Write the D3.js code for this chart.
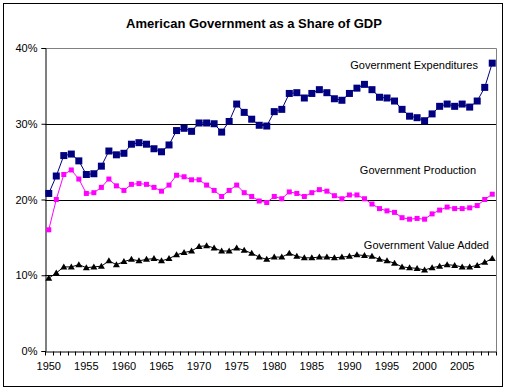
<!DOCTYPE html>
<html><head><meta charset="utf-8">
<script src="https://cdn.jsdelivr.net/npm/d3@7"></script>
<style>body{margin:0;background:#fff}svg{display:block}text{font-family:"Liberation Sans",Arial,sans-serif}</style>
</head><body><svg id="c" width="509" height="391"></svg>
<script>
const years = d3.range(1950, 2010);
const expenditures = [20.8,23.1,25.8,26.0,25.1,23.3,23.4,24.4,26.4,25.9,26.1,27.3,27.5,27.3,26.7,26.3,27.2,29.1,29.4,29.0,30.1,30.1,30.0,28.9,30.3,32.6,31.5,30.6,29.8,29.7,31.6,31.9,34.0,34.1,33.4,34.0,34.5,34.1,33.3,33.1,34.0,34.7,35.2,34.5,33.5,33.4,33.0,31.9,31.0,30.8,30.4,31.3,32.3,32.6,32.3,32.6,32.2,33.0,34.8,38.0];
const production = [16.0,20.0,23.3,23.9,22.7,20.8,20.9,21.6,22.7,21.8,21.2,22.0,22.1,22.0,21.6,21.1,21.9,23.2,23.0,22.6,22.6,21.9,21.2,20.4,21.2,21.9,20.9,20.4,19.8,19.6,20.4,20.1,21.0,20.8,20.4,20.9,21.3,21.1,20.5,20.1,20.6,20.6,20.1,19.4,18.8,18.5,18.3,17.6,17.4,17.5,17.4,18.1,18.6,19.0,18.8,18.8,18.9,19.2,20.0,20.7];
const valueAdded = [9.6,10.3,11.1,11.1,11.4,11.0,11.1,11.2,11.9,11.4,11.8,12.1,11.9,12.1,12.2,11.9,12.2,12.7,13.0,13.2,13.8,13.9,13.6,13.2,13.2,13.6,13.3,12.9,12.4,12.1,12.4,12.4,12.9,12.5,12.3,12.3,12.4,12.4,12.3,12.4,12.5,12.7,12.6,12.5,12.1,11.9,11.6,11.1,11.0,10.9,10.7,11.0,11.2,11.4,11.3,11.1,11.1,11.3,11.7,12.2];
const yTicks = [0,10,20,30,40];
const xLabelYears = [1950,1955,1960,1965,1970,1975,1980,1985,1990,1995,2000,2005];
const seriesNames = ["Government Expenditures","Government Production","Government Value Added"];
const title = "American Government as a Share of GDP";

const svg = d3.select("#c");
const L=45,R=496,T=48,B=351;
svg.append("rect").attr("x",3.5).attr("y",3.5).attr("width",499).attr("height",383).attr("fill","#fff").attr("stroke","#000");
svg.append("text").attr("x",254).attr("y",28).attr("text-anchor","middle").attr("font-size",13).attr("font-weight","bold").text(title);

const x = d3.scaleBand().domain(years).range([L,R]);
const y = d3.scaleLinear().domain([0,40]).range([B,T]);
const cx = d=>x(d)+x.bandwidth()/2;

// plot border (gray top/right)
svg.append("path").attr("d",`M${L},${T+0.5}H${R+0.5}V${B}`).attr("fill","none").attr("stroke","#808080");
// gridlines
svg.append("g").selectAll("line").data([10,20,30]).join("line")
  .attr("x1",L).attr("x2",R).attr("y1",d=>Math.round(y(d))+0.5).attr("y2",d=>Math.round(y(d))+0.5).attr("stroke","#000");

// y axis
const ya = svg.append("g").attr("transform",`translate(${L+0.5},0)`)
  .call(d3.axisLeft(y).tickValues(yTicks).tickSize(4).tickPadding(4).tickFormat(d=>d+"%"));
ya.selectAll("text").attr("font-size",11).attr("font-family","Liberation Sans, Arial, sans-serif");
ya.select(".domain").attr("stroke","#000");
// x axis
const xa = svg.append("g").attr("transform",`translate(0,${B+0.5})`)
  .call(d3.axisBottom(x).tickValues([]).tickSizeOuter(0));
xa.select(".domain").attr("stroke","#000");
xa.selectAll("line.tk").data(years.concat([2010])).join("line").attr("class","tk")
  .attr("x1",(d,i)=>Math.round(L+i*x.step())+0.5).attr("x2",(d,i)=>Math.round(L+i*x.step())+0.5)
  .attr("y1",0).attr("y2",4).attr("stroke","#000");
xa.selectAll("text.lb").data(xLabelYears).join("text").attr("class","lb")
  .attr("x",d=>cx(d)).attr("y",18).attr("text-anchor","middle").attr("font-size",11).attr("fill","#000").text(d=>d);

function drawLine(vals,color){
  svg.append("path").datum(vals).attr("fill","none").attr("stroke",color).attr("stroke-width",1)
    .attr("d",d3.line().x((d,i)=>cx(years[i])).y(d=>y(d)));
}
drawLine(expenditures,"#000080");
drawLine(production,"#FF00FF");
drawLine(valueAdded,"#000000");

svg.append("g").selectAll("rect").data(expenditures).join("rect")
  .attr("x",(d,i)=>cx(years[i])-3.5).attr("y",d=>y(d)-3.5).attr("width",7).attr("height",7).attr("fill","#000080");
svg.append("g").selectAll("rect").data(production).join("rect")
  .attr("x",(d,i)=>cx(years[i])-2.5).attr("y",d=>y(d)-2.5).attr("width",5).attr("height",5).attr("fill","#FF00FF");
svg.append("g").selectAll("path").data(valueAdded).join("path")
  .attr("d",(d,i)=>{const px=cx(years[i]),py=y(d);return `M${px},${py-3.5}L${px+3.5},${py+2.5}L${px-3.5},${py+2.5}Z`;}).attr("fill","#000");

const labels = [{t:seriesNames[0],v:expenditures,x:478,y:69},{t:seriesNames[1],x:476,y:174},{t:seriesNames[2],x:489,y:249}];
svg.append("g").selectAll("text").data(labels).join("text")
  .attr("x",d=>d.x).attr("y",d=>d.y).attr("text-anchor","end").attr("font-size",11).text(d=>d.t);
</script></body></html>
